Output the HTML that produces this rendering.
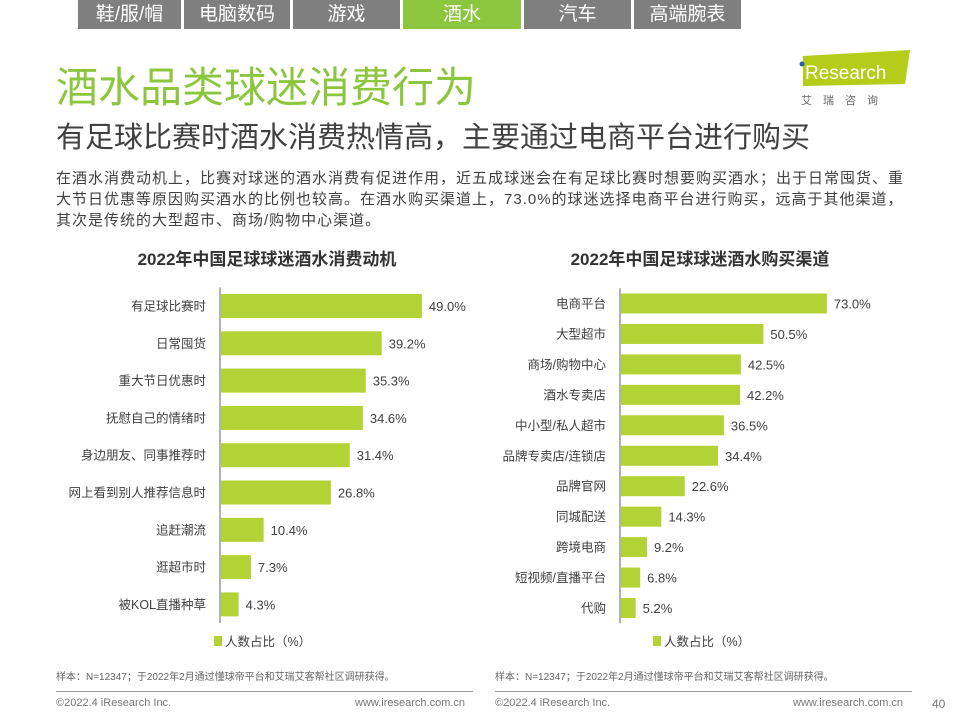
<!DOCTYPE html>
<html><head><meta charset="utf-8"><style>
body{margin:0;width:960px;height:720px;background:#fff;position:relative;overflow:hidden;font-family:"Liberation Sans","Noto Sans CJK SC",sans-serif;}
.tab{position:absolute;top:0;height:29px;background:#7f7f7f;color:#fff;font-size:19px;text-align:center;line-height:30px;}
.abs{position:absolute;}
</style></head><body>
<div>
<div class="tab" style="left:78px;width:103px">鞋/服/帽</div>
<div class="tab" style="left:184px;width:106px">电脑数码</div>
<div class="tab" style="left:293px;width:107px">游戏</div>
<div class="tab" style="left:403px;width:118px;background:#8cc63f">酒水</div>
<div class="tab" style="left:524px;width:107px">汽车</div>
<div class="tab" style="left:634px;width:107px">高端腕表</div>
</div>
<div class="abs" style="left:56px;top:54px;font-size:42px;color:#8cc63f;">酒水品类球迷消费行为</div>
<div class="abs" style="left:56px;top:114px;font-size:29px;color:#404040;">有足球比赛时酒水消费热情高，主要通过电商平台进行购买</div>
<div class="abs" style="left:795px;top:48px;width:120px;height:60px;">
<svg width="120" height="60"><polygon points="8,8 115,2 110,36 8,38" fill="#b5cc18"/><circle cx="7" cy="16" r="2.5" fill="#2a5caa"/><text x="10" y="31" font-size="19" fill="#fff" font-family="Liberation Sans">Research</text><text x="6" y="56" font-size="11" fill="#666" letter-spacing="11">艾瑞咨询</text></svg></div>
<div class="abs" style="left:56px;top:168px;width:858px;font-size:15px;letter-spacing:1.0px;line-height:21px;color:#404040;">在酒水消费动机上，比赛对球迷的酒水消费有促进作用，近五成球迷会在有足球比赛时想要购买酒水；出于日常囤货、重大节日优惠等原因购买酒水的比例也较高。在酒水购买渠道上，73.0%的球迷选择电商平台进行购买，远高于其他渠道，其次是传统的大型超市、商场/购物中心渠道。</div>
<svg id="c" class="abs" style="left:0;top:0" width="960" height="720"></svg>
<div class="abs" style="left:56px;top:668px;font-size:10px;color:#666">样本：N=12347；于2022年2月通过懂球帝平台和艾瑞艾客帮社区调研获得。</div>
<div class="abs" style="left:495px;top:668px;font-size:10px;color:#666">样本：N=12347；于2022年2月通过懂球帝平台和艾瑞艾客帮社区调研获得。</div>
<div class="abs" style="left:56px;top:691px;width:417px;border-top:1px solid #999"></div>
<div class="abs" style="left:495px;top:691px;width:417px;border-top:1px solid #999"></div>
<div class="abs" style="left:56px;top:697px;font-size:11px;color:#777">©2022.4 iResearch Inc.</div>
<div class="abs" style="left:355px;top:697px;font-size:11px;color:#777">www.iresearch.com.cn</div>
<div class="abs" style="left:495px;top:697px;font-size:11px;color:#777">©2022.4 iResearch Inc.</div>
<div class="abs" style="left:793px;top:697px;font-size:11px;color:#777">www.iresearch.com.cn</div>
<div class="abs" style="left:932px;top:697px;font-size:12px;color:#777">40</div>
<script>
const leftCats=["有足球比赛时","日常囤货","重大节日优惠时","抚慰自己的情绪时","身边朋友、同事推荐时","网上看到别人推荐信息时","追赶潮流","逛超市时","被KOL直播种草"];
const leftVals=[49.0,39.2,35.3,34.6,31.4,26.8,10.4,7.3,4.3];
const rightCats=["电商平台","大型超市","商场/购物中心","酒水专卖店","中小型/私人超市","品牌专卖店/连锁店","品牌官网","同城配送","跨境电商","短视频/直播平台","代购"];
const rightVals=[73.0,50.5,42.5,42.2,36.5,34.4,22.6,14.3,9.2,6.8,5.2];
const NS="http://www.w3.org/2000/svg",svg=document.getElementById('c');
function mk(t,a,txt){const e=document.createElementNS(NS,t);for(const k in a)e.setAttribute(k,a[k]);if(txt!==undefined)e.textContent=txt;svg.appendChild(e);return e;}
function chart(cfg,cats,vals){
 const x=v=>cfg.x0+v*cfg.k, y=i=>cfg.y0+i*cfg.step;
 let t=mk('text',{x:cfg.tx,y:265,'font-size':17,'font-weight':'bold',fill:'#333','text-anchor':'middle'},cfg.title);
 
 
 let ax=mk('line',{x1:cfg.x0,x2:cfg.x0,y1:y(0)-cfg.step/2,y2:y(cats.length-1)+cfg.step/2,stroke:'#666','stroke-width':1});
 
 
 cats.forEach((c,i)=>{
  let r=mk('rect',{x:cfg.x0+1,y:y(i)-cfg.bh/2,width:x(vals[i])-cfg.x0,height:cfg.bh,fill:'#b3d235'});
  
  
  let l=mk('text',{x:cfg.x0-14,y:y(i)+4.5,'font-size':12.5,fill:'#404040','text-anchor':'end'},c);
  
  
  let v=mk('text',{x:x(vals[i])+8,y:y(i)+5,'font-size':13,fill:'#404040'},vals[i].toFixed(1)+'%');
  
  
 });
 let lg=mk('rect',{x:cfg.lx,y:636,width:8,height:10,fill:'#b3d235'});
 
 
 let lt=mk('text',{x:cfg.lx+11,y:646,'font-size':12.5,fill:'#404040'},'人数占比（%）');
 
 
}
chart({id:'motive-chart',title:'2022年中国足球球迷酒水消费动机',tx:267,x0:220,k:4.1,y0:306,step:37.3,bh:24,lx:214},leftCats,leftVals);
chart({id:'channel-chart',title:'2022年中国足球球迷酒水购买渠道',tx:700,x0:620,k:2.82,y0:303.5,step:30.45,bh:20,lx:653},rightCats,rightVals);
</script>
</body></html>
